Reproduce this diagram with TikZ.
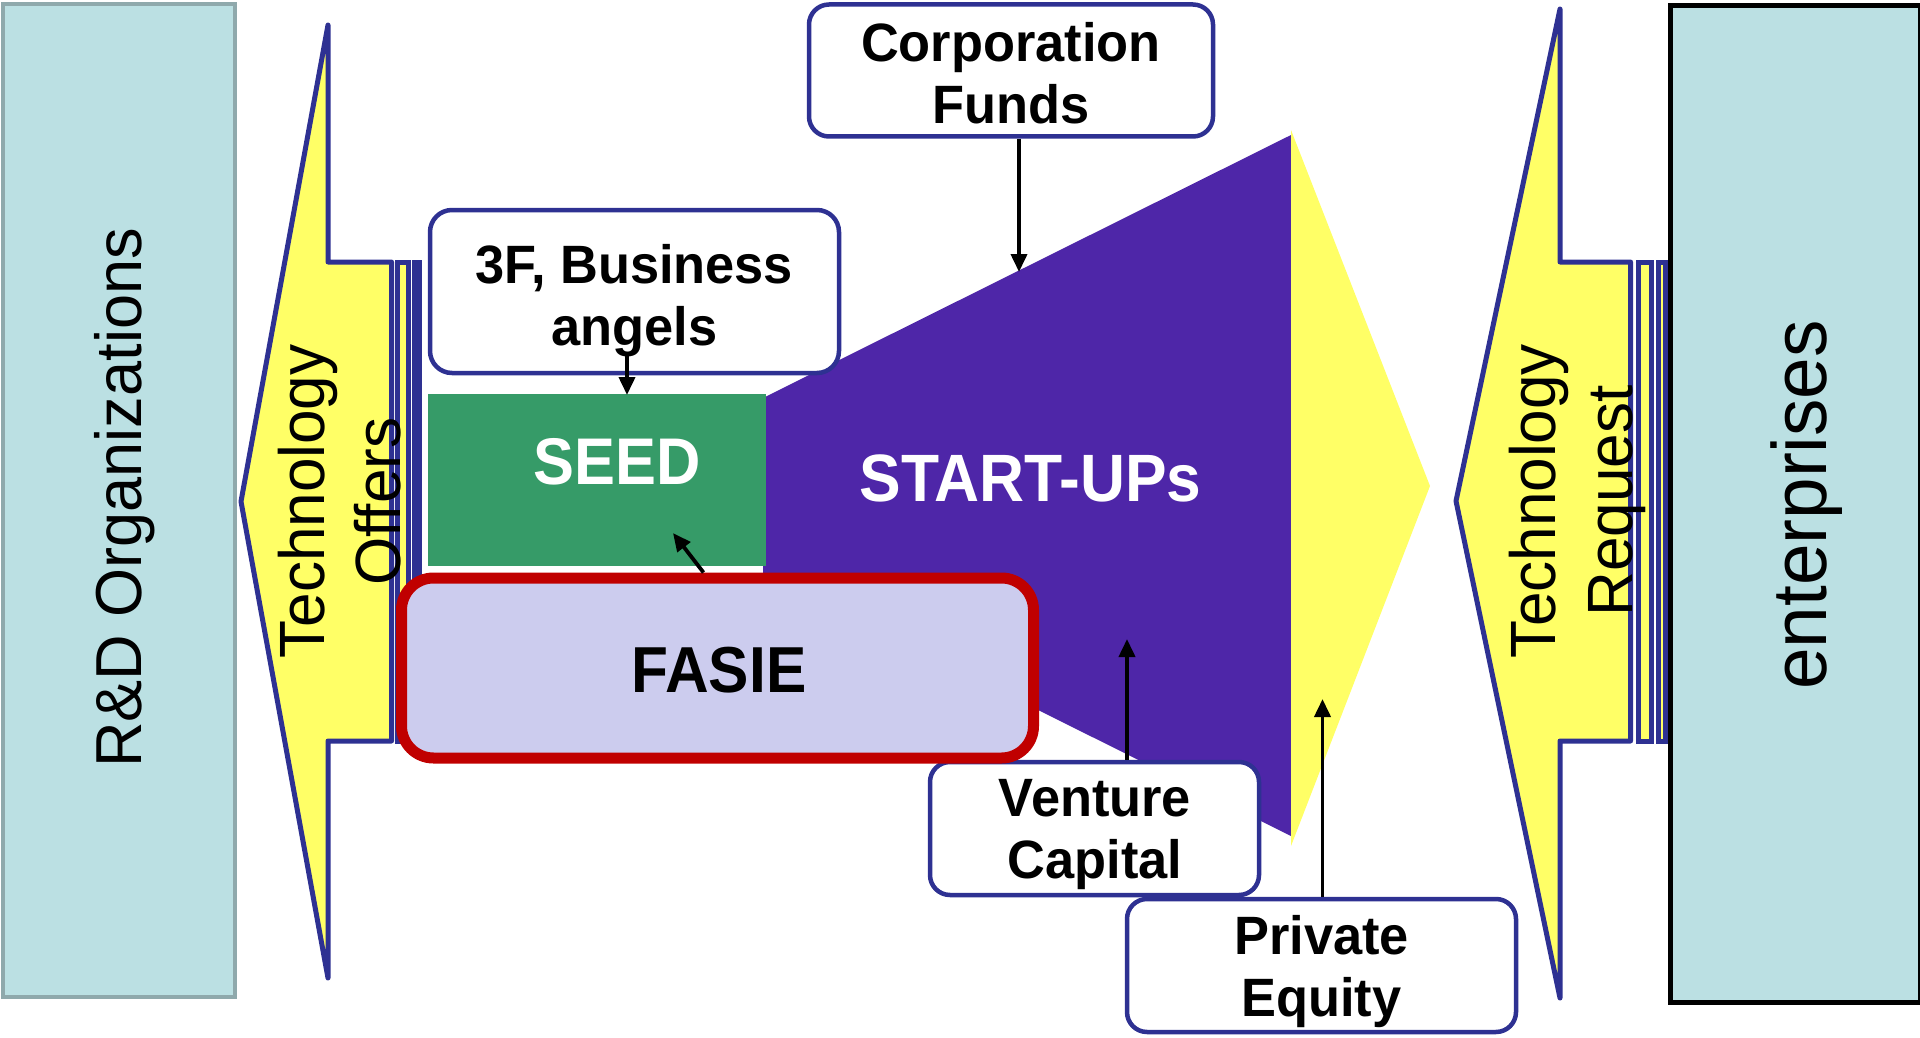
\documentclass[tikz,border=0pt]{standalone}
\usepackage{fontspec}
\setmainfont{Liberation Sans}
\newfontfamily\rsans[FakeStretch=0.97]{Liberation Sans}
\newfontfamily\bsans[FakeStretch=0.93]{Liberation Sans}
\usetikzlibrary{arrows.meta}
\definecolor{navy}{RGB}{46,49,146}
\definecolor{purp}{RGB}{78,38,168}
\definecolor{seedg}{RGB}{54,155,104}
\definecolor{yel}{RGB}{255,255,102}
\definecolor{cyanbg}{RGB}{187,224,227}
\definecolor{rdborder}{RGB}{143,169,172}
\definecolor{fasiefill}{RGB}{204,204,238}
\definecolor{fasiered}{RGB}{192,0,0}
\begin{document}
\begin{tikzpicture}[x=1pt,y=-1pt,
  fundbox/.style={draw=navy,line width=4.5pt,fill=white,rounded corners=20pt,inner sep=0pt},
  boxtext/.style={font=\rsans\bfseries\fontsize{54}{62}\selectfont,align=center,inner sep=0pt},
  bigtext/.style={inner sep=0pt},
  sidetext/.style={rotate=90,inner sep=0pt,align=center},
  yarrow/.style={draw=navy,line width=5pt,fill=yel,line join=round},
  stripe/.style={draw=navy,line width=5pt,fill=yel},
  arr/.style={draw=black,line width=3.8pt,-{Triangle[length=18pt,width=16pt]}}
]
\useasboundingbox (0,0) rectangle (1920,1038);

% side boxes
\node[draw=rdborder,line width=4pt,fill=cyanbg,minimum width=232pt,minimum height=993pt,inner sep=0pt] (rd) at (118.5,500.5) {};
\node[draw=black,line width=5pt,fill=cyanbg,minimum width=250pt,minimum height=997pt,inner sep=0pt] (ent) at (1795.5,504) {};
\node[sidetext,font=\rsans\fontsize{65}{78}\selectfont] (rdt) at (125,498) {R\&D Organizations};
\node[sidetext,font=\rsans\fontsize{77}{92}\selectfont] (entt) at (1807,505) {enterprises};

% left striped arrow
\draw[yarrow] (241,501.5) -- (328,25) -- (328,262) -- (391.5,262) -- (391.5,741) -- (328,741) -- (328,978) -- cycle;
\draw[stripe] (397.5,262) rectangle (408.5,741);
\draw[stripe,line width=4.5pt] (414.5,262) rectangle (419.5,741);
% right striped arrow
\draw[yarrow] (1456,501) -- (1560,9) -- (1560,262) -- (1630.5,262) -- (1630.5,741) -- (1560,741) -- (1560,998) -- cycle;
\draw[stripe] (1638.5,262) rectangle (1651.5,741);
\draw[stripe] (1658.5,262) rectangle (1665.5,741);
\node[sidetext,font=\rsans\fontsize{64}{76}\selectfont] (tot) at (339.5,501.5) {Technology\\Offers};
\node[sidetext,font=\rsans\fontsize{64}{77}\selectfont] (trt) at (1577,501) {Technology\\Request};

% start-ups funnel
\fill[purp] (765,397) -- (1291,135) -- (1291,836) -- (763,573) -- cycle;
\fill[yel] (1291,130) -- (1430,486) -- (1291,846) -- cycle;
\node[bigtext,font=\bsans\bfseries\fontsize{67}{80}\selectfont,text=white] (sut) at (1030.5,478) {START-UPs};

% seed
\node[fill=seedg,minimum width=338pt,minimum height=172pt,inner sep=0pt] (seed) at (597,480) {};
\node[bigtext,font=\bsans\bfseries\fontsize{66}{79}\selectfont,text=white] (seedt) at (617,462) {SEED};

% funding boxes
\node[fundbox,minimum width=404pt,minimum height=132pt] (corp) at (1011,70.5) {};
\node[boxtext] (corpt) at (1011,73) {Corporation\\Funds};
\node[fundbox,rounded corners=22pt,minimum width=409pt,minimum height=163pt] (f3) at (634.5,291.5) {};
\node[boxtext] (f3t) at (634.5,301) {3F, Business\\angels};
\node[fundbox,minimum width=329pt,minimum height=133pt] (vc) at (1094.5,828.5) {};
\node[boxtext] (vct) at (1095,835) {Venture\\Capital};
\node[fundbox,minimum width=389pt,minimum height=133pt] (pe) at (1321.5,965.5) {};
\node[boxtext] (pet) at (1321.5,972) {Private\\Equity};

% FASIE
\node[draw=fasiered,line width=11pt,fill=fasiefill,rounded corners=32pt,minimum width=632pt,minimum height=180pt,inner sep=0pt] (fasie) at (717.5,668) {};
\node[bigtext,font=\bsans\bfseries\fontsize{65}{78}\selectfont] (fasiet) at (719,670) {FASIE};

% connectors
\coordinate (cfTip) at (1019,272);
\coordinate (sdTip) at (627,395);
\coordinate (fsTip) at (673,533);
\coordinate (vcTip) at (1127,639);
\coordinate (peTip) at (1322.5,699);
\coordinate (f3s) at ([yshift=20pt]f3.south);
\draw[arr] (corp.south -| cfTip) -- (cfTip);
\draw[arr] (f3s -| sdTip) -- (sdTip);
\draw[arr] ([xshift=-14pt]fasie.north) -- (fsTip);
\draw[arr] (vc.north -| vcTip) -- (vcTip);
\draw[arr] (pe.north -| peTip) -- (peTip);
\end{tikzpicture}
\end{document}
